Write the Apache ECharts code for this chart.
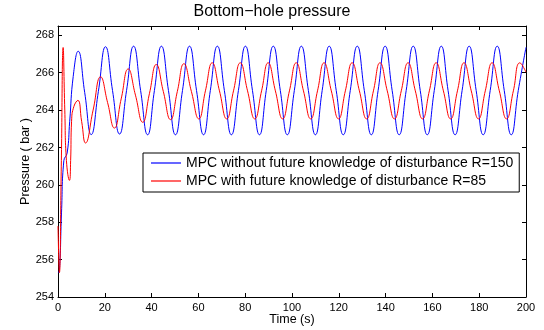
<!DOCTYPE html>
<html>
<head>
<meta charset="utf-8">
<script src="https://cdn.jsdelivr.net/npm/echarts@6/dist/echarts.min.js"></script>
<style>html,body{margin:0;padding:0;background:#fff}#c{width:544px;height:330px}</style>
</head>
<body>
<div id="c"></div>
<script>
const titleText = 'Bottom\u2212hole pressure';
const xName = 'Time (s)';
const yName = 'Pressure ( bar )';
const nameBlue = 'MPC without future knowledge of disturbance R=150';
const nameRed = 'MPC with future knowledge of disturbance R=85';
const xTicks = [0, 20, 40, 60, 80, 100, 120, 140, 160, 180, 200];
const yTicks = [254, 256, 258, 260, 262, 264, 266, 268];

const blueT = [0, 0.6, 1.5, 2.5, 3.9, 5.0, 6.5, 8.6, 11.4, 14.2, 17.25, 20.3, 23.3, 26.3, 29.3, 32.3, 35.3, 38.3, 41.2, 44.2, 47.2, 50.2, 53.2, 56.2, 59.2, 62.2, 65.1, 68.1, 71.1, 74.1, 77.1, 80.1, 83.1, 86.1, 89.0, 92.0, 95.0, 98.0, 101.0, 104.0, 107.0, 110.0, 112.9, 115.9, 118.9, 121.9, 124.9, 127.9, 130.9, 133.9, 136.8, 139.8, 142.8, 145.8, 148.8, 151.8, 154.8, 157.8, 160.8, 163.8, 166.7, 169.7, 172.7, 175.7, 178.7, 181.7, 184.7, 187.7, 190.7, 193.7, 196.7, 200];
const blueP = [255.3, 255.4, 258.5, 261.3, 261.7, 263.4, 265.8, 267.15, 264.95, 262.69, 265.0, 267.39, 265.05, 262.72, 265.05, 267.42, 265.05, 262.68, 265.05, 267.42, 265.05, 262.68, 265.05, 267.42, 265.05, 262.68, 265.05, 267.42, 265.05, 262.68, 265.05, 267.42, 265.05, 262.68, 265.05, 267.42, 265.05, 262.68, 265.05, 267.42, 265.05, 262.68, 265.05, 267.42, 265.05, 262.68, 265.05, 267.42, 265.05, 262.68, 265.05, 267.42, 265.05, 262.68, 265.05, 267.42, 265.05, 262.68, 265.05, 267.42, 265.05, 262.68, 265.05, 267.42, 265.05, 262.68, 265.05, 267.42, 265.05, 262.68, 265.05, 267.36];

const redT = [0, 0.6, 1.4, 2.2, 2.9, 3.6, 4.9, 5.4, 5.8, 6.8, 8.5, 10.1, 11.75, 15.0, 18.2, 21.2, 24.1, 27.0, 30.0, 33.1, 36.2, 39.1, 42.0, 45.0, 48.1, 51.0, 53.8, 57.0, 60.2, 63.0, 65.9, 69.0, 72.1, 75.0, 77.9, 81.0, 84.1, 87.0, 89.8, 92.9, 96.0, 98.9, 101.8, 104.9, 108.0, 110.9, 113.7, 116.8, 119.9, 122.8, 125.7, 128.8, 131.9, 134.8, 137.6, 140.7, 143.8, 146.7, 149.6, 152.7, 155.8, 158.7, 161.6, 164.7, 167.8, 170.7, 173.5, 176.6, 179.7, 182.6, 185.5, 188.6, 191.7, 194.6, 197.4, 200];
const redP = [257.8, 255.3, 261.0, 267.35, 264.0, 261.3, 260.24, 261.3, 263.4, 264.2, 264.52, 263.4, 262.24, 264.0, 265.78, 264.4, 263.04, 264.6, 266.2, 264.8, 263.35, 264.9, 266.44, 265.0, 263.49, 265.0, 266.48, 265.0, 263.53, 265.03, 266.53, 265.03, 263.53, 265.03, 266.53, 265.03, 263.53, 265.03, 266.53, 265.03, 263.53, 265.03, 266.53, 265.03, 263.53, 265.03, 266.53, 265.03, 263.53, 265.03, 266.53, 265.03, 263.53, 265.03, 266.53, 265.03, 263.53, 265.03, 266.53, 265.03, 263.53, 265.03, 266.53, 265.03, 263.53, 265.03, 266.53, 265.03, 263.53, 265.03, 266.53, 265.03, 263.53, 265.03, 266.53, 266.03];

const font = '"Liberation Sans", Arial, Helvetica, sans-serif';
const pairs = (t, p) => t.map((v, i) => [v, p[i]]);
const yLabelSet = new Set(yTicks);
const xLabelSet = new Set(xTicks);

const axisCommon = {
  axisLine: { show: true, onZero: false, lineStyle: { color: '#000', width: 1 } },
  axisTick: { show: true, inside: true, length: 4, lineStyle: { color: '#000', width: 1 } },
  splitLine: { show: false }
};

const chart = echarts.init(document.getElementById('c'), null, { renderer: 'canvas' });
chart.setOption({
  animation: false,
  backgroundColor: '#fff',
  title: {
    text: titleText, left: 'center', top: 4, padding: [0, 0, 0, 44],
    textStyle: { fontFamily: font, fontSize: 16, fontWeight: 'normal', color: '#000' }
  },
  grid: { left: 58, right: 18, top: 26, bottom: 33, containLabel: false, outerBoundsMode: 'none' },
  legend: {
    left: 143, top: 153, orient: 'vertical',
    backgroundColor: '#fff', borderColor: '#000', borderWidth: 1, borderRadius: 0,
    padding: [2, 6, 3, 8], itemGap: 2, itemWidth: 30, itemHeight: 1.2,
    icon: 'rect',
    textStyle: { fontFamily: font, fontSize: 14, color: '#000', lineHeight: 16 },
    data: [nameBlue, nameRed]
  },
  xAxis: [
    Object.assign({}, axisCommon, {
      type: 'value', min: 0, max: 200, interval: 20, position: 'bottom',
      name: xName, nameLocation: 'middle', nameGap: 16, nameMoveOverlap: false,
      nameTextStyle: { fontFamily: font, fontSize: 12.5, color: '#000' },
      axisLabel: { fontFamily: font, fontSize: 11, color: '#000', margin: 5,
        formatter: v => xLabelSet.has(v) ? String(v) : '' }
    }),
    Object.assign({}, axisCommon, {
      type: 'value', min: 0, max: 200, interval: 20, position: 'top',
      axisLabel: { show: false }
    })
  ],
  yAxis: [
    Object.assign({}, axisCommon, {
      type: 'value', min: 254, max: 268.5, interval: 2, position: 'left',
      name: yName, nameLocation: 'middle', nameGap: 26, nameMoveOverlap: false,
      nameTextStyle: { fontFamily: font, fontSize: 12.5, color: '#000' },
      axisLabel: { fontFamily: font, fontSize: 11, color: '#000', margin: 4,
        formatter: v => yLabelSet.has(v) ? String(v) : '' }
    }),
    Object.assign({}, axisCommon, {
      type: 'value', min: 254, max: 268.5, interval: 2, position: 'right',
      axisLabel: { show: false }
    })
  ],
  series: [
    {
      name: nameBlue, type: 'line', xAxisIndex: 0, yAxisIndex: 0,
      data: pairs(blueT, blueP), showSymbol: false, symbol: 'none',
      smooth: 0.5,
      lineStyle: { color: '#0000ff', width: 1 }, itemStyle: { color: '#0000ff' }
    },
    {
      name: nameRed, type: 'line', xAxisIndex: 0, yAxisIndex: 0,
      data: pairs(redT, redP), showSymbol: false, symbol: 'none',
      smooth: 0.5,
      lineStyle: { color: '#ff0000', width: 1 }, itemStyle: { color: '#ff0000' }
    }
  ]
});
</script>
</body>
</html>
